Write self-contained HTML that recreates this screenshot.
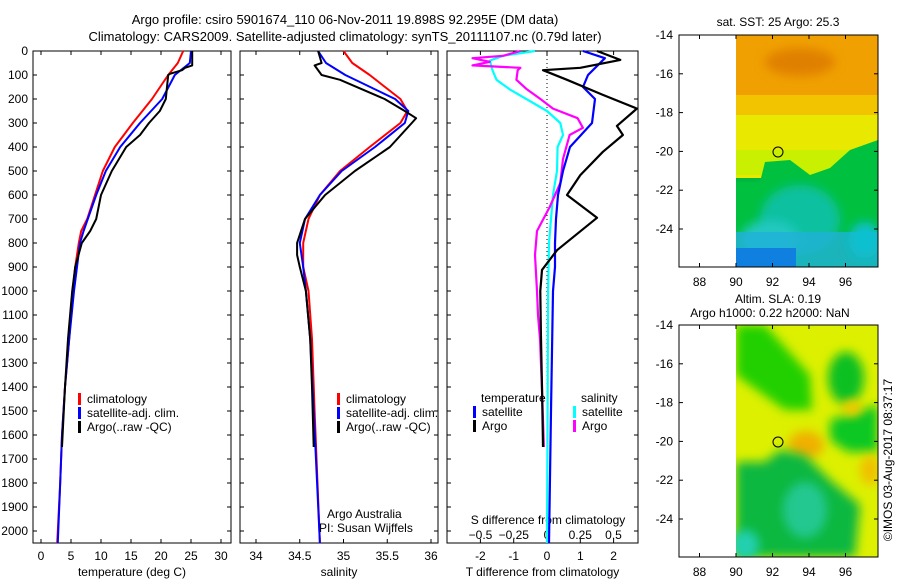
<!DOCTYPE html>
<html><head><meta charset="utf-8">
<style>
html,body{margin:0;padding:0;background:#fff;}
svg{display:block;font-family:"Liberation Sans",sans-serif;}
text{font-size:12px;fill:#000;}
</style></head>
<body>
<svg id="fig" width="900" height="580" viewBox="0 0 900 580" xmlns="http://www.w3.org/2000/svg">
<defs>
<filter id="bl" x="-50%" y="-50%" width="200%" height="200%"><feGaussianBlur stdDeviation="5"/></filter>
<clipPath id="c1"><rect x="736" y="35" width="142" height="232"/></clipPath>
<clipPath id="c2"><rect x="736" y="325" width="142" height="232"/></clipPath>
</defs>
<text x="345" y="24" text-anchor="middle" style="font-size:13px">Argo profile: csiro 5901674_110 06-Nov-2011 19.898S 92.295E (DM data)</text>
<text x="345" y="41" text-anchor="middle" style="font-size:13px">Climatology: CARS2009. Satellite-adjusted climatology: synTS_20111107.nc (0.79d later)</text>

<!-- SST map -->
<g>
<text x="778" y="26" text-anchor="middle">sat. SST: 25 Argo: 25.3</text>
<g clip-path="url(#c1)">
<rect x="736" y="35" width="142" height="232" fill="#e8e800"/>
<rect x="736" y="35" width="142" height="65" fill="#f0a000"/>
<rect x="736" y="95" width="142" height="20" fill="#f2c400"/>
<rect x="736" y="150" width="142" height="25" fill="#c8f000"/>
<rect x="736" y="178" width="142" height="90" fill="#00b840"/>
<path d="M736 182 L760 182 L765 162 L790 160 L810 175 L830 168 L850 150 L878 140 L878 268 L736 268Z" fill="#00c040"/>
<ellipse cx="800" cy="220" rx="40" ry="35" fill="#10c0a0" filter="url(#bl)"/>
<ellipse cx="770" cy="240" rx="30" ry="20" fill="#20c8c0" filter="url(#bl)"/>
<rect x="736" y="232" width="142" height="36" fill="#20b0d8" opacity="0.8"/>
<rect x="736" y="248" width="60" height="20" fill="#1080e0"/>
<ellipse cx="800" cy="62" rx="35" ry="14" fill="#e08000" filter="url(#bl)"/>
<ellipse cx="865" cy="240" rx="16" ry="18" fill="#10c0d0" filter="url(#bl)"/>
</g>
<rect x="679" y="35" width="199" height="232" fill="none" stroke="#000"/>
<circle cx="778" cy="152" r="5" fill="none" stroke="#000"/>
<g id="map1ticks"></g>
</g>

<!-- SLA map -->
<g>
<text x="778" y="303" text-anchor="middle">Altim. SLA: 0.19</text>
<text x="770" y="317" text-anchor="middle">Argo h1000: 0.22 h2000: NaN</text>
<g clip-path="url(#c2)">
<rect x="736" y="325" width="142" height="232" fill="#dcf000"/>
<path d="M736 325 L765 325 L810 375 L812 410 L785 410 L736 375Z" fill="#20d000" filter="url(#bl)"/>
<ellipse cx="846" cy="378" rx="18" ry="26" fill="#10c020" filter="url(#bl)"/>
<path d="M830 420 L878 405 L878 452 L848 452 L830 440Z" fill="#10c820" filter="url(#bl)"/>
<ellipse cx="806" cy="445" rx="18" ry="14" fill="#f0b000" filter="url(#bl)"/>
<ellipse cx="852" cy="408" rx="10" ry="8" fill="#f0c800" filter="url(#bl)"/>
<path d="M736 462 L765 462 L780 450 L805 455 L830 480 L860 505 L855 557 L736 557Z" fill="#10b840" filter="url(#bl)"/>
<ellipse cx="805" cy="510" rx="22" ry="28" fill="#20c890" filter="url(#bl)"/>
<ellipse cx="745" cy="545" rx="14" ry="15" fill="#20d0b0" filter="url(#bl)"/>
<ellipse cx="870" cy="470" rx="10" ry="15" fill="#f0c000" filter="url(#bl)"/>
</g>
<rect x="679" y="325" width="199" height="232" fill="none" stroke="#000"/>
<circle cx="778" cy="442" r="5" fill="none" stroke="#000"/>
<g id="map2ticks"></g>
</g>
<text transform="translate(892,460) rotate(-90)" text-anchor="middle">©IMOS 03-Aug-2017 08:37:17</text>

<g id="p1"></g>
<g id="p2"></g>
<g id="p3"></g>
</svg>
<script>
// ---- data ----
const climDepth = [0,50,100,200,300,400,500,600,700,750,800,900,1000,1200,1400,1600,1800,2050];
const climTemp  = [23.7,22.8,21.2,18.5,15.3,12.3,10.3,9.0,7.7,6.7,6.3,5.7,5.3,4.7,4.0,3.5,3.2,2.7];
const satTemp   = [25.0,24.8,22.3,20.2,16.5,13.2,10.8,9.2,7.8,7.1,6.5,6.0,5.5,4.7,4.0,3.5,3.2,2.8];
const argoTDepth = [0,60,70,80,95,100,200,250,300,350,400,500,600,700,750,800,900,1000,1200,1400,1650];
const argoTemp   = [25.2,25.2,24.0,23.5,21.5,21.2,20.8,19.8,18.0,16.5,14.2,11.8,10.0,9.2,8.2,6.8,5.7,5.2,4.5,4.0,3.5];
const salDepth = [0,50,100,200,250,300,400,500,600,700,800,900,1000,1200,1500,2050];
const climSal  = [35.0,35.1,35.3,35.65,35.73,35.65,35.3,34.96,34.73,34.6,34.54,34.54,34.6,34.64,34.67,34.73];
const satSal   = [34.71,34.8,35.02,35.59,35.74,35.7,35.36,34.98,34.73,34.56,34.5,34.54,34.57,34.62,34.66,34.73];
const argoSDepth = [0,50,60,100,120,200,250,280,300,400,500,600,700,800,850,900,1000,1200,1400,1650];
const argoSal    = [34.71,34.75,34.67,34.75,34.96,35.47,35.7,35.83,35.78,35.53,35.13,34.79,34.56,34.47,34.47,34.5,34.57,34.62,34.64,34.66];
const dTArgoDepth = [0,37,70,80,120,183,240,312,350,420,517,600,695,830,912,1000,1200,1400,1650];
const dTArgo      = [1.5,2.2,1.0,-0.12,0.6,1.68,2.7,2.1,2.28,1.68,1.0,0.6,1.5,0.3,-0.15,-0.2,-0.18,-0.15,-0.12];
const dTSatDepth = [0,30,100,150,200,300,400,500,600,700,800,900,1000,1500,2050];
const dTSat      = [1.08,1.74,1.23,1.08,1.44,1.35,0.69,0.48,0.33,0.27,0.24,0.24,0.18,0.12,0.06];
const dSSatDepth = [0,20,40,80,120,160,250,300,350,400,500,600,700,800,1000,2050];
const dSSat      = [-0.09,-0.33,-0.43,-0.41,-0.38,-0.28,0,0.1,0.12,0.08,0.075,0.045,0.03,0.015,0.008,0];
const dSArgoDepth = [0,20,30,45,60,70,80,120,160,200,240,280,320,350,450,550,650,750,850,1000,1100,1200,1400,1650];
const dSArgo      = [-0.2,-0.33,-0.56,-0.43,-0.56,-0.2,-0.22,-0.23,-0.15,-0.05,0.045,0.23,0.27,0.17,0.12,0.1,0.02,-0.075,-0.09,-0.075,-0.068,-0.053,-0.038,-0.023];
const depthTicks = [0,100,200,300,400,500,600,700,800,900,1000,1100,1200,1300,1400,1500,1600,1700,1800,1900,2000];
const tempTicks = [0,5,10,15,20,25,30];
const salTicks = [34,34.5,35,35.5,36];
const tDiffTicks = [-2,-1,0,1,2];
const sDiffTicks = [-0.5,-0.25,0,0.25,0.5];
const lonTicks = [88,90,92,94,96];
const latTicks = [-14,-16,-18,-20,-22,-24];

const NS='http://www.w3.org/2000/svg';
function mk(tag,attrs,parent){const e=document.createElementNS(NS,tag);for(const k in attrs)e.setAttribute(k,attrs[k]);parent.appendChild(e);return e;}
const Y0=51, Y1=543;
const yD = d => Y0 + d*(Y1-Y0)/2050;

function panel(g,x0,x1,xf,ticks,labelFn,labelY,xlabel,showDepthLabels){
  const box=mk('rect',{x:x0,y:Y0,width:x1-x0,height:Y1-Y0,fill:'none',stroke:'#000'},g);
  
  
  depthTicks.forEach(d=>{
    const y=yD(d);
    mk('line',{x1:x0,x2:x0+4,y1:y,y2:y,stroke:'#000'},g);
    mk('line',{x1:x1-4,x2:x1,y1:y,y2:y,stroke:'#000'},g);
    if(showDepthLabels){const t=mk('text',{x:x0-5,y:y+4,'text-anchor':'end'},g);t.textContent=d;
      
      }
  });
  ticks.forEach(v=>{
    const x=xf(v);
    mk('line',{x1:x,x2:x,y1:Y1,y2:Y1-4,stroke:'#000'},g);
    mk('line',{x1:x,x2:x,y1:Y0,y2:Y0+4,stroke:'#000'},g);
    const t=mk('text',{x:x,y:labelY,'text-anchor':'middle'},g);t.textContent=labelFn(v);
    
    
  });
  const xl=mk('text',{x:(x0+x1)/2,y:576,'text-anchor':'middle'},g);xl.textContent=xlabel;
  
  
}
function line(g,vals,depths,xf,color,w,name){
  const pts=vals.map((v,i)=>xf(v).toFixed(1)+','+yD(depths[i]).toFixed(1)).join(' ');
  const p=mk('polyline',{points:pts,fill:'none',stroke:color,'stroke-width':w,'stroke-linejoin':'round'},g);
  
  
}
function legend(g,x,y,items){
  items.forEach((it,i)=>{
    const yy=y+i*14;
    mk('rect',{x:x,y:yy-10,width:3,height:12,fill:it[1]},g);
    const t=mk('text',{x:x+9,y:yy},g);t.textContent=it[0];
    
    
  });
}
// Panel 1
const g1=document.getElementById('p1');
const xT=v=>41+6*v;
panel(g1,33,231,xT,tempTicks,v=>v,560,'temperature (deg C)',true);
line(g1,climTemp,climDepth,xT,'#f00',2,'temp-climatology-line');
line(g1,satTemp,climDepth,xT,'#00f',2,'temp-satellite-line');
line(g1,argoTemp,argoTDepth,xT,'#000',2,'temp-argo-line');
legend(g1,78,403,[['climatology','#f00'],['satellite-adj. clim.','#00f'],['Argo(..raw -QC)','#000']]);
// Panel 2
const g2=document.getElementById('p2');
const xS=v=>256+87.5*(v-34);
panel(g2,240,438,xS,salTicks,v=>v,560,'salinity',false);
line(g2,climSal,salDepth,xS,'#f00',2,'sal-climatology-line');
line(g2,satSal,salDepth,xS,'#00f',2,'sal-satellite-line');
line(g2,argoSal,argoSDepth,xS,'#000',2,'sal-argo-line');
legend(g2,337,403,[['climatology','#f00'],['satellite-adj. clim.','#00f'],['Argo(..raw -QC)','#000']]);
const ta=mk('text',{x:327,y:518},g2);ta.textContent='Argo Australia';


const tb=mk('text',{x:319,y:532},g2);tb.textContent='PI: Susan Wijffels';


// Panel 3
const g3=document.getElementById('p3');
const xdT=v=>547+33.3*v;
const xdS=v=>547+133*v;
panel(g3,447,638,xdT,tDiffTicks,v=>v,560,'T difference from climatology',false);
mk('line',{x1:547,x2:547,y1:Y0,y2:Y1,stroke:'#000','stroke-dasharray':'1,3'},g3);
sDiffTicks.forEach(v=>{const t=mk('text',{x:xdS(v),y:539,'text-anchor':'middle'},g3);t.textContent=v===0?'0':String(v).replace('-','\u2212');
  
  });
const sl=mk('text',{x:548,y:524,'text-anchor':'middle'},g3);sl.textContent='S difference from climatology';


line(g3,dSSat,dSSatDepth,xdS,'#0ff',2.2,'s-diff-satellite-line');
line(g3,dSArgo,dSArgoDepth,xdS,'#f0f',2.2,'s-diff-argo-line');
line(g3,dTSat,dTSatDepth,xdT,'#00f',2.2,'t-diff-satellite-line');
line(g3,dTArgo,dTArgoDepth,xdT,'#000',2.2,'t-diff-argo-line');
const lt=mk('text',{x:481,y:402},g3);lt.textContent='temperature';


const ls=mk('text',{x:581,y:402},g3);ls.textContent='salinity';


legend(g3,473,416,[['satellite','#00f'],['Argo','#000']]);
legend(g3,573,416,[['satellite','#0ff'],['Argo','#f0f']]);
// map ticks
function mapTicks(id,top){
  const g=document.getElementById(id);
  const lx=v=>736+(v-90)*18.25;
  const ly=v=>top+(-14-v)*19.4;
  lonTicks.forEach(v=>{const x=lx(v);
    mk('line',{x1:x,x2:x,y1:top+232,y2:top+228,stroke:'#000'},g);
    mk('line',{x1:x,x2:x,y1:top,y2:top+4,stroke:'#000'},g);
    const t=mk('text',{x:x,y:top+251,'text-anchor':'middle'},g);t.textContent=v;
    
    });
  latTicks.forEach(v=>{const y=ly(v);
    mk('line',{x1:679,x2:683,y1:y,y2:y,stroke:'#000'},g);
    mk('line',{x1:874,x2:878,y1:y,y2:y,stroke:'#000'},g);
    const t=mk('text',{x:673,y:y+4,'text-anchor':'end'},g);t.textContent=v;
    
    });
}
mapTicks('map1ticks',35);
mapTicks('map2ticks',325);
</script>
</body></html>
